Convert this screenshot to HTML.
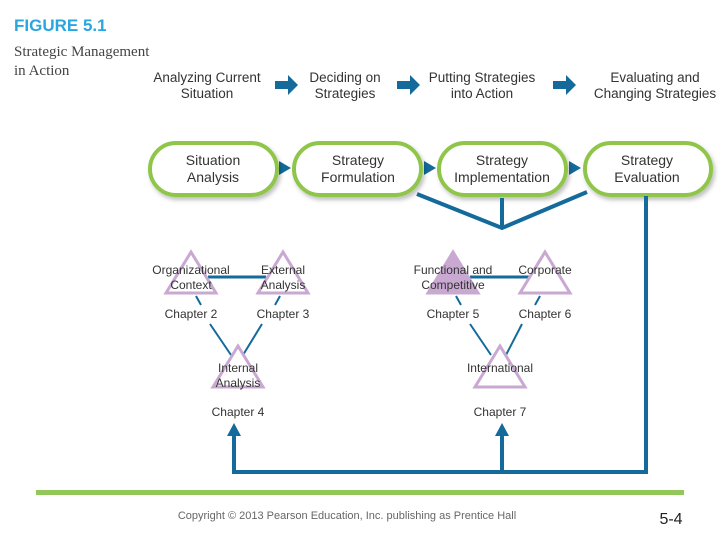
<!DOCTYPE html>
<html><head><meta charset="utf-8"><style>
body{margin:0;width:720px;height:540px;background:#fff;overflow:hidden;position:relative;font-family:"Liberation Sans",sans-serif}
</style></head><body>
<svg width="720" height="540" style="position:absolute;left:0;top:0" font-family="Liberation Sans, sans-serif">
<defs><filter id="sh" x="-10%" y="-10%" width="130%" height="140%"><feDropShadow dx="2" dy="3" stdDeviation="2" flood-color="#000" flood-opacity="0.25"/></filter></defs>
<text x="14" y="31" font-size="17" font-weight="bold" fill="#2aa6df">FIGURE 5.1</text>
<text x="14" y="56" font-size="15" fill="#444" font-family="Liberation Serif, serif">Strategic Management</text>
<text x="14" y="75" font-size="15" fill="#444" font-family="Liberation Serif, serif">in Action</text>
<g font-size="13.5" fill="#333" text-anchor="middle">
<text x="207" y="82">Analyzing Current</text><text x="207" y="98">Situation</text>
<text x="345" y="82">Deciding on</text><text x="345" y="98">Strategies</text>
<text x="482" y="82">Putting Strategies</text><text x="482" y="98">into Action</text>
<text x="655" y="82">Evaluating and</text><text x="655" y="98">Changing Strategies</text>
</g>
<g fill="#136a9b">
<path d="M275 81h13v-6l10 10-10 10v-6h-13z"/>
<path d="M397 81h13v-6l10 10-10 10v-6h-13z"/>
<path d="M553 81h13v-6l10 10-10 10v-6h-13z"/>
<path d="M279 161l12 7-12 7z"/>
<path d="M424 161l12 7-12 7z"/>
<path d="M569 161l12 7-12 7z"/>
</g>
<g fill="#fff" stroke="#8fc54a" stroke-width="4" filter="url(#sh)">
<rect x="150" y="143" width="127" height="52" rx="26"/>
<rect x="294" y="143" width="127" height="52" rx="26"/>
<rect x="439" y="143" width="127" height="52" rx="26"/>
<rect x="585" y="143" width="126" height="52" rx="26"/>
</g>
<g font-size="14" fill="#333" text-anchor="middle">
<text x="213" y="165">Situation</text><text x="213" y="182">Analysis</text>
<text x="358" y="165">Strategy</text><text x="358" y="182">Formulation</text>
<text x="502" y="165">Strategy</text><text x="502" y="182">Implementation</text>
<text x="647" y="165">Strategy</text><text x="647" y="182">Evaluation</text>
</g>
<g stroke="#136a9b" fill="none">
<path d="M417 194L502 228L587 192M502 198V228" stroke-width="4"/>
<path d="M646 196V472H234V432M502 472V432" stroke-width="4"/>
<path d="M208 277H266M470 277H530" stroke-width="3"/>
<path d="M196 296L201 305M210 324L231 355M280 296L275 305M262 324L243 355M456 296L461 305M470 324L491 355M540 296L535 305M522 324L506 355" stroke-width="2"/>
</g>
<g fill="#136a9b"><path d="M227 436l7-13 7 13z"/><path d="M495 436l7-13 7 13z"/></g>
<g fill="none" stroke="#c9a9d2" stroke-width="3">
<path d="M191 252L166 293H216Z"/>
<path d="M283 252L258 293H308Z"/>
<path d="M545 252L520 293H570Z"/>
<path d="M238 346L213 387H263Z"/>
<path d="M500 346L475 387H525Z"/>
</g>
<path d="M453 252L428 293H478Z" fill="#c9a9d2" stroke="#c9a9d2" stroke-width="3"/>
<g font-size="12" fill="#333" text-anchor="middle">
<text x="191" y="274">Organizational</text><text x="191" y="289">Context</text>
<text x="283" y="274">External</text><text x="283" y="289">Analysis</text>
<text x="453" y="274">Functional and</text><text x="453" y="289">Competitive</text>
<text x="545" y="274">Corporate</text>
<text x="191" y="318">Chapter 2</text><text x="283" y="318">Chapter 3</text>
<text x="453" y="318">Chapter 5</text><text x="545" y="318">Chapter 6</text>
<text x="238" y="372">Internal</text><text x="238" y="387">Analysis</text>
<text x="500" y="372">International</text>
<text x="238" y="416">Chapter 4</text><text x="500" y="416">Chapter 7</text>
</g>
<rect x="36" y="490" width="648" height="5" fill="#92c85a"/>
<text x="347" y="519" font-size="11" fill="#666" text-anchor="middle">Copyright © 2013 Pearson Education, Inc. publishing as Prentice Hall</text>
<text x="671" y="524" font-size="16" fill="#222" text-anchor="middle">5-4</text>
</svg>
</body></html>
